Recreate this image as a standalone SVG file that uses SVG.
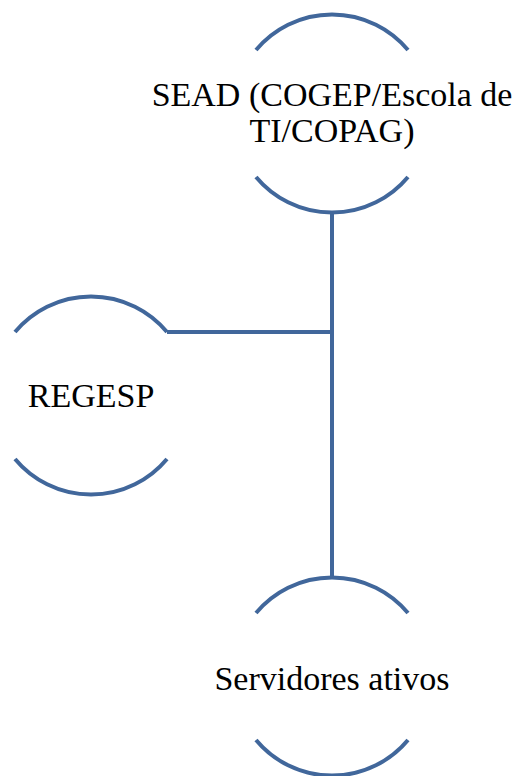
<svg xmlns="http://www.w3.org/2000/svg" width="517" height="776" viewBox="0 0 517 776">
<style>
.arc{fill:none;stroke:#41679B;stroke-width:4}
.con{fill:none;stroke:#41679B;stroke-width:4}
.lbl{font-family:"Liberation Serif","Times New Roman",serif;font-size:34px;fill:#000;text-anchor:middle}
</style>
<rect width="517" height="776" fill="#fff"/>
<g id="connectors">
<path class="con" d="M332,213 V577"/>
<path class="con" d="M167,332 H332"/>
</g>
<g id="node-sead">
<path class="arc" d="M256,50 A99,99 0 0 1 408,50"/>
<path class="arc" d="M256,177 A99,99 0 0 0 408,177"/>
<text class="lbl" x="332" y="106">SEAD (COGEP/Escola de</text>
<text class="lbl" x="332" y="142">TI/COPAG)</text>
</g>
<g id="node-regesp">
<path class="arc" d="M15,332 A99,99 0 0 1 167,332"/>
<path class="arc" d="M15,459 A99,99 0 0 0 167,459"/>
<text class="lbl" x="91" y="407">REGESP</text>
</g>
<g id="node-servidores">
<path class="arc" d="M256,613 A99,99 0 0 1 408,613"/>
<path class="arc" d="M256,740 A99,99 0 0 0 408,740"/>
<text class="lbl" x="332" y="690">Servidores ativos</text>
</g>
</svg>
